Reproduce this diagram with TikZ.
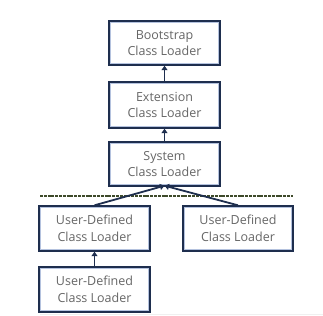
\documentclass[tikz,border=0pt]{standalone}
\usepackage{fontspec}
\setmainfont{Open Sans}
\usetikzlibrary{arrows.meta}
\begin{document}
\begin{tikzpicture}[x=1pt,y=-1pt,
  loader/.style={draw=navy, line width=1.4pt, fill=white, minimum width=111pt, minimum height=45pt,
    inner sep=0pt, align=center, font=\fontsize{12.5}{16.5}\selectfont, text=txtgray,
    path picture={\draw[innerblue, line width=1pt]
      ([shift={(1.6pt,-1.6pt)}]path picture bounding box.north west) rectangle
      ([shift={(-1.6pt,1.6pt)}]path picture bounding box.south east);}},
  inh/.style={draw=navy, line width=1.8pt, -{Triangle[width=6pt,length=4.5pt]}},
]
\definecolor{navy}{HTML}{1E2E4E}
\definecolor{innerblue}{HTML}{B4C2DE}
\definecolor{txtgray}{HTML}{666666}
\definecolor{sep}{HTML}{3E4A2A}
\useasboundingbox (0,0) rectangle (323,315);
\fill[white] (0,0) rectangle (323,315);
\draw[gray!12, line width=0.6pt] (40,314) -- (323,314);
\draw[sep, line width=2.4pt, dash pattern=on 3pt off 0.8pt] (40,196) -- (293,196);
\node[loader, minimum height=44pt] (boot) at (164.5,43) {Bootstrap\\Class Loader};
\node[loader, minimum height=46pt] (ext) at (164.5,105) {Extension\\Class Loader};
\node[loader, minimum height=44pt] (sys) at (164.5,164) {System\\Class Loader};
\node[loader] (u1) at (94.5,228.5) {User-Defined\\Class Loader};
\node[loader, minimum width=110pt] (u2) at (238,228.5) {User-Defined\\Class Loader};
\node[loader] (u3) at (94.5,289.5) {User-Defined\\Class Loader};
\draw[inh] (ext.north) -- (boot.south);
\draw[inh] (sys.north) -- (ext.south);
\draw[inh] (u3.north) -- (u1.south);
\coordinate (tip) at ([yshift=1pt]sys.south);
\draw[inh] (u1.north) -- (tip);
\draw[inh] (u2.north) -- (tip);
\end{tikzpicture}
\end{document}
